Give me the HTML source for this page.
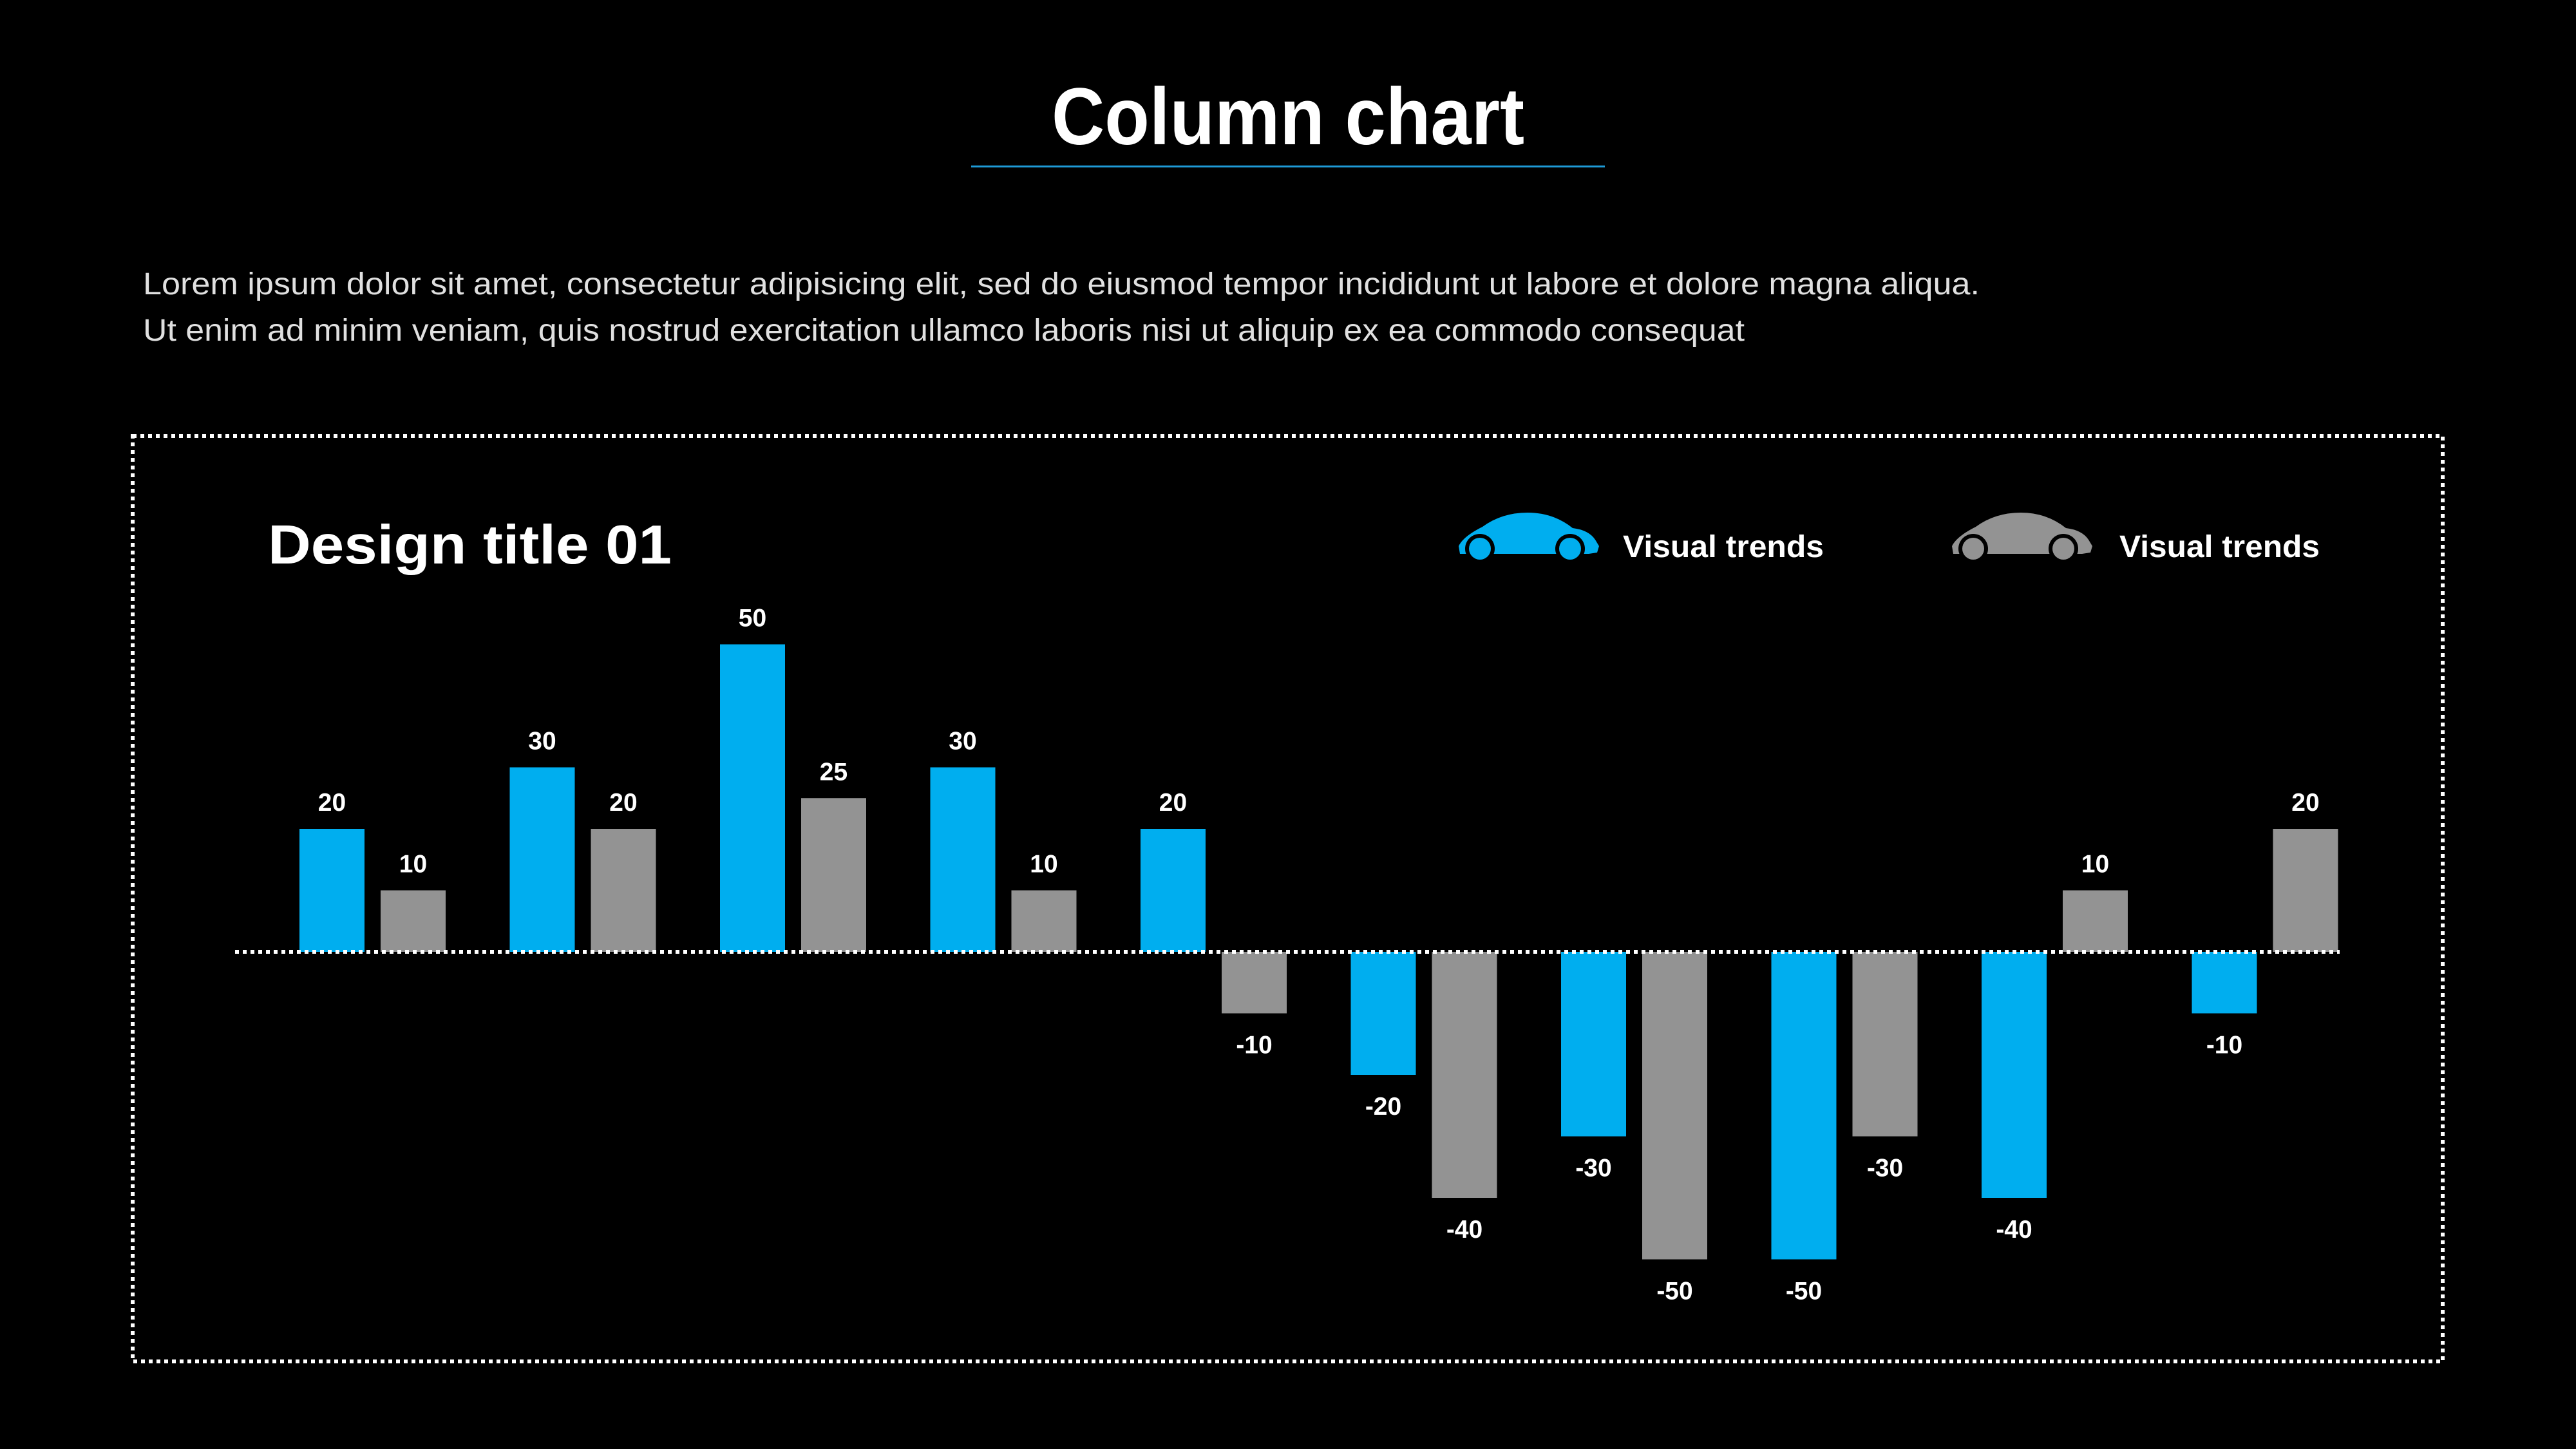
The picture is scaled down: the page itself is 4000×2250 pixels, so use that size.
<!DOCTYPE html>
<html><head><meta charset="utf-8"><style>
html,body{margin:0;padding:0;background:#000;}
svg{display:block;font-family:"Liberation Sans",sans-serif;}
</style></head><body>
<svg width="4000" height="2250" viewBox="0 0 4000 2250" xmlns="http://www.w3.org/2000/svg">
<rect width="4000" height="2250" fill="#000"/>
<text x="2000" y="224" text-anchor="middle" font-size="125" font-weight="bold" fill="#fff" textLength="734" lengthAdjust="spacingAndGlyphs">Column chart</text>
<rect x="1508" y="257" width="984" height="3" fill="#1e9ad6"/>
<text x="222" y="457" font-size="48" fill="#e0e0e0" textLength="2852" lengthAdjust="spacingAndGlyphs">Lorem ipsum dolor sit amet, consectetur adipisicing elit, sed do eiusmod tempor incididunt ut labore et dolore magna aliqua.</text>
<text x="222" y="529" font-size="48" fill="#e0e0e0" textLength="2487" lengthAdjust="spacingAndGlyphs">Ut enim ad minim veniam, quis nostrud exercitation ullamco laboris nisi ut aliquip ex ea commodo consequat</text>
<rect x="206" y="677" width="3587" height="1437" fill="none" stroke="#fff" stroke-width="6" stroke-dasharray="6 6"/>
<text x="416" y="875" font-size="85" font-weight="bold" fill="#fff" textLength="627" lengthAdjust="spacingAndGlyphs">Design title 01</text>
<g transform="translate(2262,793)">
<path d="M5,67 L3,55 Q10,40 40,25 Q70,3 110,3 Q150,3 180,27 Q205,30 215,45 L221,55 L218,65 L205,67 Z" fill="#00aeef"/>
<circle cx="36" cy="59" r="23" fill="#000"/><circle cx="36" cy="59" r="17" fill="#00aeef"/>
<circle cx="176" cy="59" r="23" fill="#000"/><circle cx="176" cy="59" r="17" fill="#00aeef"/>
</g>
<text x="2520" y="865" font-size="48" font-weight="bold" fill="#fff" textLength="312" lengthAdjust="spacingAndGlyphs">Visual trends</text>
<g transform="translate(3028,793)">
<path d="M5,67 L3,55 Q10,40 40,25 Q70,3 110,3 Q150,3 180,27 Q205,30 215,45 L221,55 L218,65 L205,67 Z" fill="#939393"/>
<circle cx="36" cy="59" r="23" fill="#000"/><circle cx="36" cy="59" r="17" fill="#939393"/>
<circle cx="176" cy="59" r="23" fill="#000"/><circle cx="176" cy="59" r="17" fill="#939393"/>
</g>
<text x="3291" y="865" font-size="48" font-weight="bold" fill="#fff" textLength="311" lengthAdjust="spacingAndGlyphs">Visual trends</text>
<g id="bars" font-size="39" font-weight="bold" fill="#fff" text-anchor="middle"></g>
<line x1="365" y1="1478" x2="3633" y2="1478" stroke="#fff" stroke-width="6" stroke-dasharray="6 6"/>
<script>
(function(){
var g=document.getElementById('bars'),ns='http://www.w3.org/2000/svg';
var b=[20,30,50,30,20,-20,-30,-50,-40,-10],gr=[10,20,25,10,-10,-40,-50,-30,10,20];
function bar(x,v,c){var y0=1478,h=Math.abs(v)*9.55;var r=document.createElementNS(ns,'rect');
r.setAttribute('x',x);r.setAttribute('width',101);r.setAttribute('fill',c);
var y=v>=0?y0-h:y0;r.setAttribute('y',y);r.setAttribute('height',h);g.appendChild(r);
var t=document.createElementNS(ns,'text');t.setAttribute('x',x+50.5);
t.setAttribute('y',v>=0?y0-h-28:y0+h+62);t.textContent=v;t.setAttribute('fill','#fff');g.appendChild(t);}
for(var i=0;i<10;i++){bar(465+326.5*i,b[i],'#00aeef');bar(591+326.5*i,gr[i],'#939393');}
})();
</script>
</svg>
</body></html>
